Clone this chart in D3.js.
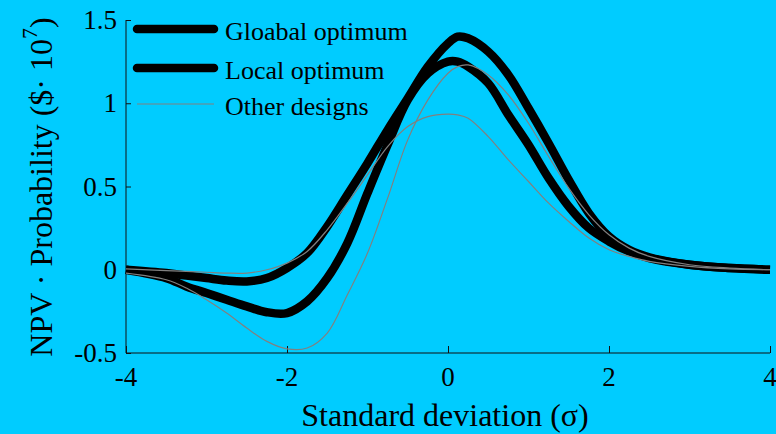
<!DOCTYPE html>
<html>
<head>
    <style>
        body { margin: 0; background: #00ccff; }
        svg { display: block; background: #00ccff; }
    </style>
    <script src="https://d3js.org/d3.v7.min.js"></script>
</head>
<body>
    <svg width="776" height="434"></svg>
    <script>

    // values
    var sigma = [-4, -3.5, -3.25, -3, -2.75, -2.5, -2.25, -2, -1.75, -1.5, -1.25, -1, -0.75, -0.5, -0.25, 0, 0.12, 0.25, 0.5, 0.75, 1, 1.25, 1.5, 1.75, 2, 2.25, 2.5, 3, 3.5, 4];

    var globalOpt = [0, -0.02, -0.035, -0.05, -0.065, -0.07, -0.05, 0.01, 0.10, 0.26, 0.45, 0.64, 0.84, 1.03, 1.22, 1.36, 1.40, 1.39, 1.31, 1.17, 0.97, 0.76, 0.54, 0.34, 0.20, 0.12, 0.075, 0.03, 0.01, 0];
    var localOpt  = [0, -0.05, -0.10, -0.14, -0.18, -0.22, -0.255, -0.26, -0.19, -0.05, 0.16, 0.46, 0.75, 1.02, 1.18, 1.25, 1.25, 1.22, 1.12, 0.93, 0.75, 0.55, 0.38, 0.25, 0.17, 0.11, 0.07, 0.03, 0.01, 0];
    var otherA    = [-0.02, -0.06, -0.11, -0.18, -0.26, -0.35, -0.43, -0.475, -0.47, -0.38, -0.15, 0.10, 0.43, 0.78, 1.02, 1.18, 1.22, 1.23, 1.17, 1.05, 0.88, 0.68, 0.49, 0.33, 0.21, 0.13, 0.08, 0.03, 0.01, 0];
    var otherB    = [0.005, -0.005, -0.01, -0.015, -0.02, -0.02, 0.0, 0.04, 0.11, 0.24, 0.40, 0.57, 0.74, 0.86, 0.92, 0.935, 0.93, 0.91, 0.80, 0.66, 0.53, 0.40, 0.29, 0.19, 0.12, 0.08, 0.05, 0.02, 0.005, 0];

    var xTicks = [-4, -2, 0, 2, 4];
    var yTicks = [-0.5, 0, 0.5, 1, 1.5];

    var legendNames = ["Gloabal optimum", "Local optimum", "Other designs"];

    var serif = "Liberation Serif";

    function chart() {
        var svg = d3.select("svg");

        var x = d3.scaleLinear().domain([-4, 4]).range([126, 770]);
        var y = d3.scaleLinear().domain([-0.5, 1.5]).range([353, 20]);

        // axes: only left and bottom, ticks pointing inward
        svg.append("g")
           .attr("class", "xaxis")
           .attr("transform", "translate(0," + y(-0.5) + ")")
           .call(d3.axisTop(x).tickValues(xTicks).tickSize(7).tickFormat(""))
           .call(function(g) { g.select(".domain").attr("stroke", "#111").attr("d", "M" + x(-4) + ",0H" + x(4)); });

        svg.append("g")
           .attr("class", "xlabels")
           .selectAll("text")
           .data(xTicks)
           .enter().append("text")
           .attr("x", function(d) { return x(d); })
           .attr("y", 386)
           .attr("text-anchor", "middle")
           .style("font-family", serif)
           .style("font-size", "27px")
           .text(function(d) { return d; });

        svg.append("g")
           .attr("class", "yaxis")
           .attr("transform", "translate(" + x(-4) + ",0)")
           .call(d3.axisRight(y).tickValues(yTicks).tickSize(5).tickFormat(""))
           .call(function(g) { g.select(".domain").attr("stroke", "#111").attr("d", "M0," + y(1.5) + "V" + y(-0.5)); });

        svg.append("g")
           .attr("class", "ylabels")
           .selectAll("text")
           .data(yTicks)
           .enter().append("text")
           .attr("x", 117)
           .attr("y", function(d) { return y(d) + 9; })
           .attr("text-anchor", "end")
           .style("font-family", serif)
           .style("font-size", "27px")
           .text(function(d) { return d; });

        svg.selectAll(".xaxis line, .yaxis line").attr("stroke", "#111");

        // curves
        var line = function(vals) {
            return d3.line()
                     .x(function(d, i) { return x(sigma[i]); })
                     .y(function(d) { return y(d); })
                     .curve(d3.curveCatmullRom.alpha(0.5))(vals);
        };

        svg.append("path")
           .attr("d", line(globalOpt))
           .attr("fill", "none")
           .attr("stroke", "#000")
           .attr("stroke-width", 8.5);

        svg.append("path")
           .attr("d", line(localOpt))
           .attr("fill", "none")
           .attr("stroke", "#000")
           .attr("stroke-width", 8.5);

        [otherA, otherB].forEach(function(vals) {
            svg.append("path")
               .attr("d", line(vals))
               .attr("fill", "none")
               .attr("stroke", "#808080")
               .attr("stroke-width", 1.2);
        });

        // legend
        var legendY = [29, 68, 104];
        var lg = svg.append("g").attr("class", "legend");
        legendNames.forEach(function(name, i) {
            lg.append("line")
              .attr("x1", 137).attr("x2", 214)
              .attr("y1", legendY[i]).attr("y2", legendY[i])
              .attr("stroke", i < 2 ? "#000" : "#808080")
              .attr("stroke-width", i < 2 ? 8.5 : 1.2)
              .attr("stroke-linecap", i < 2 ? "round" : "butt");
            lg.append("text")
              .attr("x", 225)
              .attr("y", legendY[i] + 11)
              .style("font-family", serif)
              .style("font-size", "26px")
              .text(name);
        });

        // axis titles
        svg.append("text")
           .attr("x", 445)
           .attr("y", 426)
           .attr("text-anchor", "middle")
           .style("font-family", serif)
           .style("font-size", "32px")
           .text("Standard deviation (σ)");

        var yl = svg.append("text")
           .attr("transform", "translate(52,187) rotate(-90)")
           .attr("text-anchor", "middle")
           .style("font-family", serif)
           .style("font-size", "32px");
        yl.append("tspan").text("NPV · Probability ($· 10");
        yl.append("tspan").attr("dy", -15).style("font-size", "22px").text("7");
        yl.append("tspan").attr("dy", 15).text(")");
    }
    chart();
    </script>
</body>
</html>
